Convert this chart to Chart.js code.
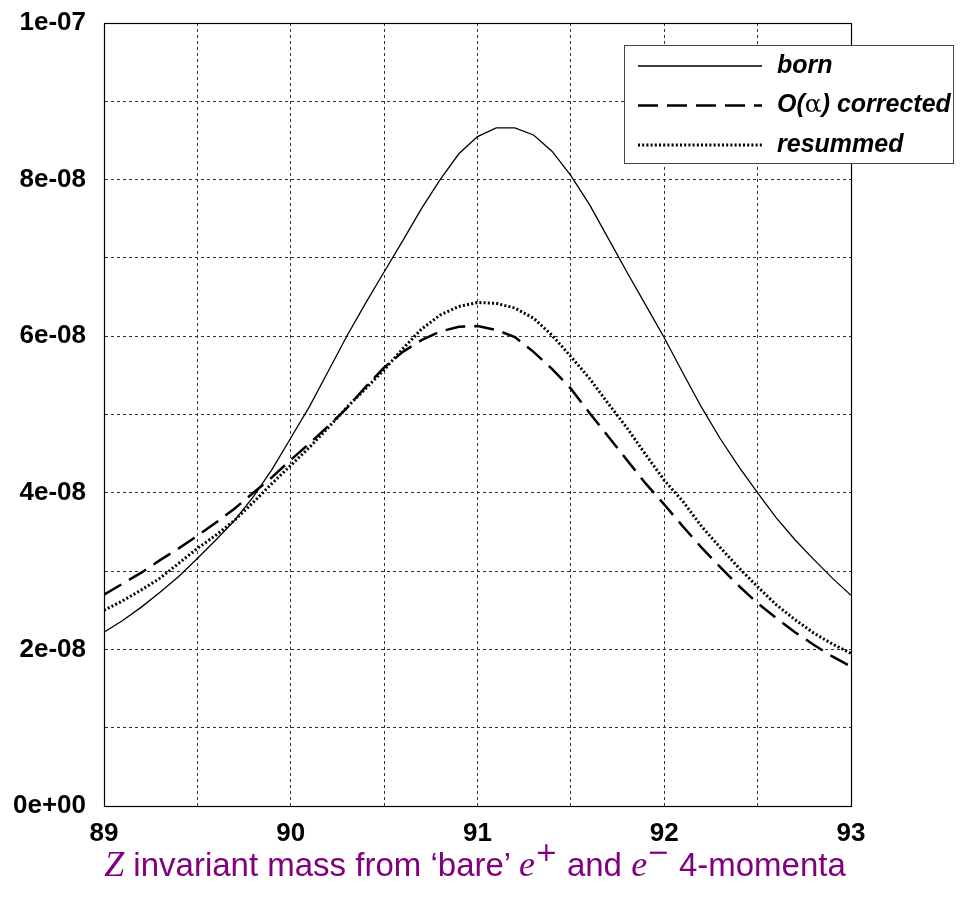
<!DOCTYPE html>
<html>
<head>
<meta charset="utf-8">
<script src="https://cdn.jsdelivr.net/npm/chart.js@4.4.1/dist/chart.umd.min.js"></script>
<style>
  body { margin: 0; background: #fff; }
  #wrap { position: relative; width: 962px; height: 898px; }
  #xtitle {
    position: absolute; left: 0; width: 950px; top: 843px; text-align: center;
    font-family: "Liberation Sans", Arial, sans-serif; font-size: 33px; color: #800080;
    white-space: nowrap;
  }
  #xtitle .m { font-family: "Liberation Serif", "DejaVu Serif", serif; font-style: italic; font-size: 36px; }
  #xtitle sup { font-family: "DejaVu Sans", sans-serif; font-size: 27px; line-height: 0; vertical-align: 15px; }
</style>
</head>
<body>
<div id="wrap">
  <canvas id="zChart"></canvas>
  <div id="xtitle"><span class="m">Z</span> invariant mass from ‘bare’ <span class="m">e</span><sup>+</sup> and <span class="m">e</span><sup>−</sup> 4-momenta</div>
</div>
<script>
// invariant mass points (GeV)
const massValues = [89.0, 89.1, 89.2, 89.3, 89.4, 89.5, 89.6, 89.7, 89.8, 89.9,
                    90.0, 90.1, 90.2, 90.3, 90.4, 90.5, 90.6, 90.7, 90.8, 90.9,
                    91.0, 91.1, 91.2, 91.3, 91.4, 91.5, 91.6, 91.7, 91.8, 91.9,
                    92.0, 92.1, 92.2, 92.3, 92.4, 92.5, 92.6, 92.7, 92.8, 92.9, 93.0];

const bornValues = [2.22e-8, 2.37e-8, 2.54e-8, 2.73e-8, 2.93e-8, 3.16e-8, 3.40e-8, 3.65e-8, 3.95e-8, 4.30e-8,
                    4.70e-8, 5.10e-8, 5.55e-8, 6.00e-8, 6.42e-8, 6.82e-8, 7.22e-8, 7.63e-8, 8.00e-8, 8.33e-8,
                    8.55e-8, 8.66e-8, 8.66e-8, 8.57e-8, 8.36e-8, 8.05e-8, 7.68e-8, 7.25e-8, 6.82e-8, 6.40e-8,
                    5.98e-8, 5.53e-8, 5.09e-8, 4.69e-8, 4.33e-8, 4.00e-8, 3.68e-8, 3.40e-8, 3.15e-8, 2.91e-8, 2.69e-8];

const correctedValues = [2.70e-8, 2.84e-8, 2.98e-8, 3.14e-8, 3.29e-8, 3.45e-8, 3.62e-8, 3.80e-8, 4.00e-8, 4.20e-8,
                         4.42e-8, 4.63e-8, 4.85e-8, 5.08e-8, 5.35e-8, 5.60e-8, 5.80e-8, 5.95e-8, 6.06e-8, 6.12e-8,
                         6.13e-8, 6.08e-8, 5.99e-8, 5.80e-8, 5.58e-8, 5.33e-8, 5.02e-8, 4.72e-8, 4.42e-8, 4.12e-8,
                         3.85e-8, 3.57e-8, 3.30e-8, 3.05e-8, 2.81e-8, 2.59e-8, 2.40e-8, 2.22e-8, 2.06e-8, 1.91e-8, 1.78e-8];

const resummedValues = [2.50e-8, 2.62e-8, 2.76e-8, 2.91e-8, 3.10e-8, 3.29e-8, 3.46e-8, 3.65e-8, 3.88e-8, 4.12e-8,
                        4.35e-8, 4.58e-8, 4.83e-8, 5.09e-8, 5.33e-8, 5.57e-8, 5.84e-8, 6.09e-8, 6.27e-8, 6.38e-8,
                        6.43e-8, 6.42e-8, 6.36e-8, 6.23e-8, 6.01e-8, 5.74e-8, 5.46e-8, 5.14e-8, 4.83e-8, 4.49e-8,
                        4.16e-8, 3.89e-8, 3.57e-8, 3.30e-8, 3.04e-8, 2.80e-8, 2.57e-8, 2.38e-8, 2.21e-8, 2.07e-8, 1.95e-8];

const seriesLabels = ['born', 'O(α) corrected', 'resummed'];

// grid positions and the labels shown on them
const xTicks = [89, 89.5, 90, 90.5, 91, 91.5, 92, 92.5, 93];
const xTickLabels = ['89', '', '90', '', '91', '', '92', '', '93'];
const yTicks = [0, 1e-8, 2e-8, 3e-8, 4e-8, 5e-8, 6e-8, 7e-8, 8e-8, 9e-8, 1e-7];
const yTickLabels = ['0e+00', '', '2e-08', '', '4e-08', '', '6e-08', '', '8e-08', '', '1e-07'];

const toPoints = arr => arr.map((v, i) => ({ x: massValues[i], y: v }));

const tickFont = { family: '"Liberation Sans", Arial, sans-serif', size: 26, weight: 'bold' };
const gridStyle = { color: '#333', lineWidth: 1, drawTicks: false };

// frame + boxed legend drawn over the plot
const frameAndLegend = {
    id: 'frameAndLegend',
    afterDraw(chart) {
        const ctx = chart.ctx;
        const a = chart.chartArea;
        ctx.save();
        ctx.strokeStyle = '#000';
        ctx.lineWidth = 1.2;
        ctx.setLineDash([]);
        ctx.strokeRect(a.left + 0.5, a.top + 0.5, a.right - a.left, a.bottom - a.top);

        const left = a.right - 227, top = a.top + 22, w = 329, h = 118;
        ctx.fillStyle = '#fff';
        ctx.fillRect(left, top, w, h);
        ctx.strokeStyle = '#444';
        ctx.lineWidth = 1;
        ctx.strokeRect(left + 0.5, top + 0.5, w, h);

        chart.data.datasets.forEach((ds, i) => {
            const y = top + 21 + i * 39.5;
            ctx.strokeStyle = ds.borderColor;
            ctx.lineWidth = ds.borderWidth;
            ctx.setLineDash(ds.borderDash || []);
            ctx.beginPath();
            ctx.moveTo(left + 14, y);
            ctx.lineTo(left + 138, y);
            ctx.stroke();
            ctx.setLineDash([]);

            ctx.fillStyle = '#000';
            ctx.textBaseline = 'middle';
            let tx = left + 153;
            ds.label.split(/(α)/).forEach(part => {
                if (!part) return;
                ctx.font = part === 'α'
                    ? '25px "DejaVu Serif", serif'
                    : 'italic bold 25px "Liberation Sans", Arial, sans-serif';
                ctx.fillText(part, tx, y);
                tx += ctx.measureText(part).width;
            });
        });
        ctx.restore();
    }
};

new Chart(document.getElementById('zChart'), {
    type: 'line',
    data: {
        datasets: [{
            label: seriesLabels[0],
            data: toPoints(bornValues),
            borderColor: '#000',
            borderWidth: 1.3,
            borderDash: [],
            pointRadius: 0,
            tension: 0
        }, {
            label: seriesLabels[1],
            data: toPoints(correctedValues),
            borderColor: '#000',
            borderWidth: 2.5,
            borderDash: [20, 9],
            pointRadius: 0,
            tension: 0
        }, {
            label: seriesLabels[2],
            data: toPoints(resummedValues),
            borderColor: '#000',
            borderWidth: 3,
            borderDash: [2, 2.2],
            pointRadius: 0,
            tension: 0
        }]
    },
    options: {
        responsive: true,
        maintainAspectRatio: false,
        animation: false,
        layout: { padding: { top: 23, right: 111, left: 0, bottom: 0 } },
        plugins: { legend: { display: false }, tooltip: { enabled: false } },
        scales: {
            x: {
                type: 'linear',
                min: 89, max: 93,
                afterBuildTicks: s => { s.ticks = xTicks.map(v => ({ value: v })); },
                afterFit: s => { s.height = 92; s.paddingLeft = 0; s.paddingRight = 0; },
                grid: { ...gridStyle },
                border: { display: true, color: '#000', dash: [3, 3] },
                ticks: {
                    color: '#000', font: tickFont, padding: 12, maxRotation: 0, autoSkip: false,
                    callback: (v, i) => xTickLabels[i]
                }
            },
            y: {
                min: 0, max: 1e-7,
                afterBuildTicks: s => { s.ticks = yTicks.map(v => ({ value: v })); },
                afterFit: s => { s.width = 104; s.paddingTop = 0; s.paddingBottom = 0; },
                grid: { ...gridStyle },
                border: { display: true, color: '#000', dash: [3, 3] },
                ticks: {
                    color: '#000', font: tickFont, padding: 18, autoSkip: false,
                    callback: (v, i) => yTickLabels[i]
                }
            }
        }
    },
    plugins: [frameAndLegend]
});
</script>
</body>
</html>
